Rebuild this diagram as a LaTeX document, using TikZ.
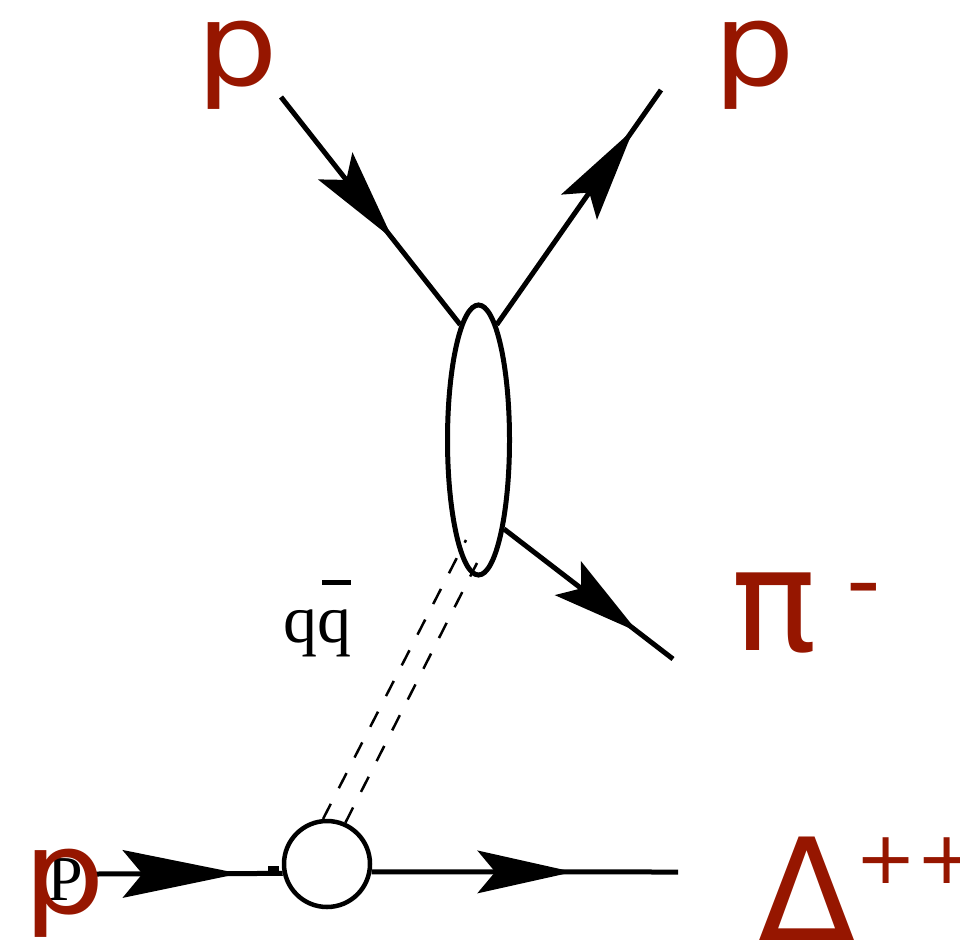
\documentclass[tikz,border=0pt]{standalone}
\usepackage{fontspec}
\usetikzlibrary{shapes.geometric,decorations.markings,calc}
\newfontfamily\labfont{DejaVu Sans}
\newfontfamily\qfont{Liberation Serif}
\definecolor{lab}{RGB}{150,22,0}
\tikzset{
  fline/.style={line width=5pt, black},
  dline/.style={line width=2.5pt, black, dash pattern=on 17pt off 17.5pt},
  arrowat/.style n args={4}{postaction={decorate},
    decoration={markings, mark=at position #1 with {\fill (0,0) -- (-#2,#3) -- ({-#2+#4},0) -- (-#2,-#3) -- cycle;}}},
  lbl/.style={anchor=base west, inner sep=0pt, text=lab},
  lblp/.style={lbl, font=\labfont\fontsize{115pt}{115pt}\selectfont},
  lblbig/.style={lbl, font=\labfont\fontsize{142pt}{142pt}\selectfont},
  qtxt/.style={anchor=base west, inner sep=0pt, text=black},
}
\begin{document}
\begin{tikzpicture}[x=1pt,y=-1pt]
\useasboundingbox (0,0) rectangle (960,947);
% blobs
\node[ellipse, draw, line width=5pt, minimum width=62pt, minimum height=270pt, inner sep=0pt] (E) at (478.5,440) {};
\node[circle, draw, line width=4.5pt, minimum size=86pt, inner sep=0pt] (C) at (327,864) {};
% free ends
\coordinate (pin) at (281,97);
\coordinate (pout) at (661,90);
\coordinate (pion) at (673,659);
\coordinate (pbeam) at (95,874);
\coordinate (delta) at (678,872);
\coordinate (q1) at (466,540);
\coordinate (q2) at (477,563);
% fermion lines
\draw[fline, arrowat={0.623}{93}{22}{18}] (pin) -- (E.99);
\draw[fline, arrowat={0.832}{95}{22}{18}] (E.81) -- (pout);
\draw[fline, arrowat={0.79}{88}{21.5}{17}] (E.-74) -- (pion);
\draw[fline, arrowat={0.769}{117}{24}{20}] (pbeam) -- (C.192);
\draw[fline, arrowat={0.658}{96}{21.5}{18}] (C.-10) -- (delta);
\fill (268,866) rectangle (279,871);
% exchange
\draw[dline] (C.95) -- (q1);
\draw[dline] (C.66) -- (q2);
% labels
\node[qtxt, font=\qfont\fontsize{64pt}{64pt}\selectfont] (Pb) at (47,900) {P};
\node[lblp] (p1) at (196,86) {\scalebox{1.12}[1]{p}};
\node[lblp] (p2) at (713,86) {\scalebox{1.12}[1]{p}};
\node[lblp] (p3) at (23,913) {\scalebox{1.12}[1]{p}};
\node[lblbig] (pi) at (731,650) {π\kern30pt\raisebox{37pt}{\fontsize{96pt}{96pt}\selectfont -}};
\node[lblbig] (dl) at (758,940) {Δ\raisebox{57pt}{\fontsize{73pt}{73pt}\selectfont ++}};
\node[qtxt, font=\qfont\fontsize{68pt}{68pt}\selectfont] (qq) at (283.4,642) {q\rlap{\kern4.6pt\rule[57pt]{29pt}{5pt}}q};
\end{tikzpicture}
\end{document}
